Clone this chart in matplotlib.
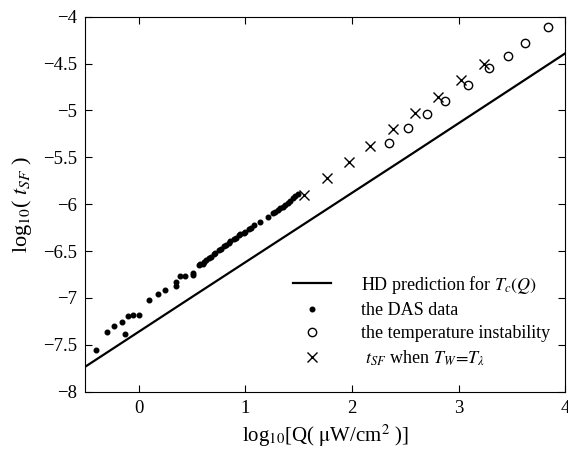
import numpy as np
import matplotlib
matplotlib.use('Agg')
import matplotlib.pyplot as plt

plt.rcParams['font.family'] = ['Liberation Serif', 'DejaVu Serif']
plt.rcParams['mathtext.fontset'] = 'stix'

# HD prediction line for T_c(Q)
hd_x = [-0.5, 0.5, 1.5, 2.5, 3.5, 4.0]
hd_y = [-7.733, -6.99, -6.25, -5.51, -4.765, -4.392]

# DAS data (dots)
das_x = [-0.40, -0.30, -0.228, -0.156, -0.128, -0.10, -0.05, 0.0, 0.094, 0.178,
         0.247, 0.35, 0.35, 0.39, 0.4375, 0.51, 0.51, 0.569, 0.58, 0.60,
         0.616, 0.63, 0.663, 0.68, 0.71, 0.72, 0.756, 0.77, 0.803, 0.82,
         0.85, 0.86, 0.897, 0.91, 0.944, 0.95, 0.991, 1.00, 1.038, 1.05,
         1.084, 1.141, 1.21, 1.257, 1.28, 1.304, 1.33, 1.351, 1.37, 1.398,
         1.42, 1.445, 1.47, 1.492]
das_y = [-7.556, -7.367, -7.30, -7.254, -7.382, -7.193, -7.179, -7.179, -7.026, -6.962,
         -6.92, -6.827, -6.873, -6.767, -6.763, -6.73, -6.756, -6.649, -6.64, -6.635,
         -6.614, -6.60, -6.578, -6.56, -6.532, -6.52, -6.489, -6.475, -6.447, -6.43,
         -6.412, -6.39, -6.375, -6.36, -6.330, -6.32, -6.305, -6.295, -6.269, -6.255,
         -6.223, -6.188, -6.134, -6.098, -6.08, -6.063, -6.045, -6.028, -6.01, -5.985,
         -5.965, -5.938, -5.915, -5.892]

# temperature instability (circles)
inst_x = [2.351, 2.529, 2.702, 2.873, 3.086, 3.289, 3.461, 3.627, 3.837]
inst_y = [-5.345, -5.189, -5.043, -4.898, -4.727, -4.552, -4.421, -4.286, -4.115]

# t_SF when T_W = T_lambda (crosses)
tw_x = [1.556, 1.766, 1.970, 2.170, 2.389, 2.595, 2.805, 3.023, 3.242]
tw_y = [-5.900, -5.725, -5.554, -5.377, -5.199, -5.026, -4.855, -4.677, -4.510]

fig = plt.figure(figsize=(5.68, 4.62), dpi=100)
ax = fig.add_axes([0.150, 0.152, 0.845, 0.812])

ax.plot(hd_x, hd_y, '-', color='black', lw=1.6, label=r'HD prediction for $T_c(Q)$')
ax.plot(das_x, das_y, 'o', color='black', ms=3.3, lw=0, label='the DAS data')
ax.plot(inst_x, inst_y, 'o', mfc='none', mec='black', ms=6, mew=1.0, lw=0,
        label='the temperature instability')
ax.plot(tw_x, tw_y, 'x', color='black', ms=7, mew=1.0, lw=0,
        label=r' $t_{SF}$ when $T_W\!=\!T_\lambda$')

ax.set_xlim(-0.5, 4)
ax.set_ylim(-8, -4)
ax.set_xticks([0, 1, 2, 3, 4])
ax.set_yticks(np.arange(-8, -3.9, 0.5))
ax.set_yticklabels(['\u22128', '\u22127.5', '\u22127', '\u22126.5', '\u22126',
                    '\u22125.5', '\u22125', '\u22124.5', '\u22124'])
ax.tick_params(direction='in', top=True, right=True, labelsize=13.5, length=5, pad=6)

ax.set_xlabel(r'log$_{10}$[Q( $\mathrm{\mu}$W/cm$^2$ )]', fontsize=15, labelpad=4)
ax.set_ylabel(r'log$_{10}$( $t_{SF}$ )', fontsize=16, labelpad=6)

leg = ax.legend(loc='lower right', bbox_to_anchor=(0.995, 0.03), frameon=False,
                fontsize=13, handlelength=2.1, labelspacing=0.35, handletextpad=1.65,
                borderaxespad=0.3)

fig.savefig('out.png', dpi=100)
